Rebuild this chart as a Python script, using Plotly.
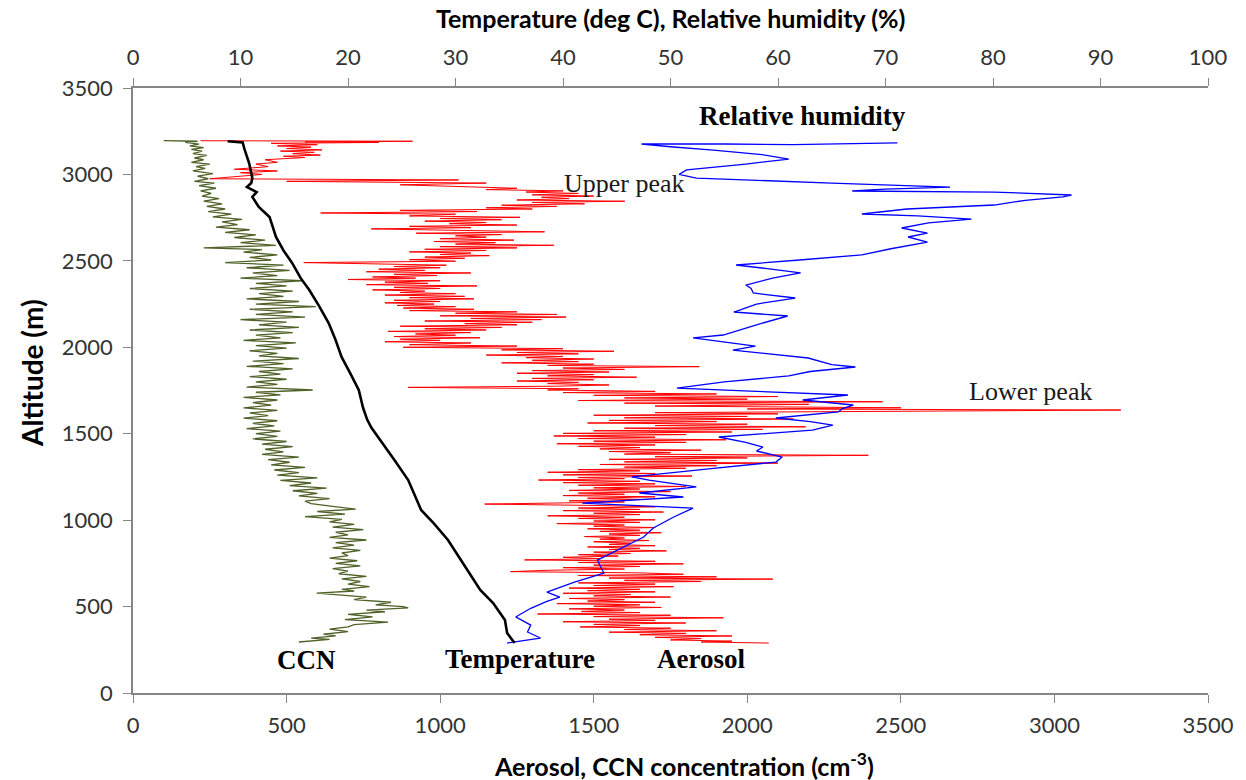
import plotly.graph_objects as go

# ---------------- data ----------------
# Temperature profile: (altitude m, temperature deg C)
temp_points = [
    (3192, 8.8), (3185, 10.2), (3141, 10.4), (3066, 10.8), (2979, 11.1), (2950, 11.0),
    (2927, 10.6), (2910, 11.2), (2898, 11.5), (2870, 11.1), (2812, 11.7), (2754, 12.7),
    (2700, 13.0), (2638, 13.3), (2560, 14.0), (2488, 14.8), (2400, 15.6), (2331, 16.4),
    (2240, 17.3), (2140, 18.2), (2050, 18.8), (1944, 19.4), (1850, 20.2), (1753, 21.0),
    (1650, 21.4), (1579, 21.8), (1533, 22.2), (1464, 23.0), (1350, 24.3), (1232, 25.6),
    (1150, 26.2), (1059, 26.8), (980, 28.0), (885, 29.3), (769, 30.5), (680, 31.4),
    (596, 32.3), (520, 33.5), (422, 34.6), (347, 34.8), (289, 35.5),
]

# Relative humidity profile: (altitude m, RH %)
rh_points = [
    (3182, 71.1), (3178, 65.0), (3172, 61.4), (3176, 55.0), (3176, 47.3), (3160, 50.0),
    (3141, 54.0), (3115, 58.5), (3089, 61.0), (3060, 57.0), (3026, 51.5), (3000, 50.8),
    (2979, 52.4), (2950, 65.0), (2927, 76.0), (2915, 70.0), (2904, 66.9), (2898, 80.1),
    (2890, 84.0), (2881, 87.3), (2870, 86.5), (2850, 83.0), (2823, 80.1), (2800, 72.0),
    (2771, 67.8), (2760, 73.0), (2742, 78.0), (2720, 74.0), (2690, 71.5), (2661, 73.9),
    (2638, 72.1), (2609, 73.9), (2570, 70.5), (2534, 67.8), (2505, 62.0), (2476, 56.1),
    (2455, 59.0), (2430, 62.1), (2400, 59.5), (2360, 57.0), (2340, 57.5), (2314, 57.7),
    (2285, 61.6), (2250, 58.0), (2204, 55.9), (2181, 60.9), (2130, 58.0), (2071, 54.9),
    (2054, 52.1), (2030, 55.0), (2007, 57.9), (1984, 55.8), (1938, 62.8), (1900, 65.0),
    (1886, 67.2), (1860, 63.0), (1834, 61.0), (1800, 55.0), (1764, 50.6), (1745, 58.0),
    (1724, 66.5), (1695, 62.3), (1666, 67.0), (1645, 66.0), (1626, 65.6), (1591, 59.8),
    (1570, 63.0), (1550, 65.1), (1521, 63.2), (1481, 54.5), (1450, 57.0), (1423, 58.6),
    (1400, 58.0), (1365, 60.4), (1336, 59.8), (1300, 54.0), (1273, 49.9), (1250, 46.4),
    (1232, 48.0), (1192, 52.4), (1157, 47.1), (1134, 51.2), (1099, 41.8), (1070, 52.1),
    (1018, 50.3), (955, 48.4), (902, 47.5), (840, 45.5), (769, 43.2), (730, 43.5),
    (694, 43.8), (640, 41.0), (584, 38.5), (555, 39.7), (530, 38.5), (490, 37.0),
    (440, 35.6), (393, 37.0), (353, 36.7), (318, 37.9), (289, 34.8),
]

# CCN concentration profile: (altitude m, cm^-3)
ccn_points = [
    (3195, 100), (3192, 210), (3185, 170), (3175, 215), (3165, 185), (3155, 230),
    (3145, 190), (3135, 225), (3120, 195), (3110, 240), (3095, 200), (3085, 230),
    (3070, 190), (3060, 250), (3045, 205), (3035, 235), (3020, 195), (3005, 260),
    (2990, 210), (2975, 245), (2960, 200), (2950, 265), (2935, 215), (2920, 270),
    (2905, 220), (2890, 255), (2875, 225), (2860, 280), (2845, 230), (2830, 290),
    (2815, 240), (2800, 300), (2785, 245), (2770, 320), (2755, 260), (2740, 355),
    (2725, 290), (2710, 340), (2695, 270), (2680, 380), (2665, 300), (2650, 400),
    (2635, 330), (2620, 430), (2605, 350), (2590, 465), (2575, 230), (2565, 420),
    (2550, 360), (2535, 470), (2520, 380), (2505, 450), (2490, 300), (2475, 490),
    (2460, 370), (2445, 510), (2430, 390), (2415, 470), (2400, 350), (2385, 550),
    (2370, 400), (2355, 500), (2340, 380), (2325, 520), (2310, 410), (2295, 490),
    (2280, 370), (2265, 540), (2250, 400), (2235, 595), (2220, 380), (2205, 520),
    (2190, 400), (2175, 560), (2160, 350), (2145, 500), (2130, 410), (2115, 540),
    (2100, 380), (2085, 520), (2070, 400), (2055, 480), (2040, 360), (2025, 530),
    (2010, 400), (1995, 500), (1980, 380), (1965, 470), (1950, 410), (1935, 540),
    (1920, 390), (1905, 490), (1890, 370), (1875, 520), (1860, 410), (1845, 480),
    (1830, 380), (1815, 500), (1800, 400), (1785, 470), (1770, 370), (1753, 585),
    (1740, 400), (1725, 480), (1710, 360), (1695, 470), (1680, 390), (1665, 450),
    (1650, 360), (1635, 470), (1620, 380), (1605, 440), (1590, 360), (1575, 470),
    (1560, 390), (1545, 460), (1530, 370), (1515, 480), (1500, 400), (1485, 470),
    (1470, 390), (1455, 500), (1440, 420), (1425, 520), (1410, 430), (1395, 490),
    (1380, 420), (1365, 540), (1350, 440), (1335, 510), (1320, 450), (1305, 560),
    (1290, 460), (1275, 540), (1260, 470), (1245, 600), (1230, 480), (1215, 580),
    (1200, 510), (1185, 630), (1170, 520), (1155, 600), (1140, 540), (1125, 640),
    (1110, 560), (1095, 580), (1080, 650), (1064, 725), (1050, 600), (1035, 690),
    (1020, 560), (1005, 680), (990, 640), (975, 720), (960, 650), (945, 750),
    (930, 660), (915, 700), (900, 640), (885, 760), (870, 660), (855, 720),
    (840, 650), (825, 740), (810, 680), (795, 700), (780, 640), (765, 730),
    (750, 660), (735, 740), (720, 650), (705, 700), (690, 670), (675, 760),
    (660, 680), (645, 740), (630, 700), (615, 770), (600, 680), (590, 720),
    (578, 598), (565, 700), (555, 760), (540, 720), (525, 840), (510, 790),
    (500, 880), (492, 896), (480, 760), (470, 820), (455, 700), (440, 780),
    (425, 690), (410, 830), (395, 720), (382, 700), (370, 640), (355, 700),
    (340, 620), (330, 660), (318, 580), (310, 640), (300, 560), (295, 540),
]

# Aerosol concentration profile: (altitude m, cm^-3)
aerosol_points = [
    (3195, 220), (3192, 910), (3188, 560), (3185, 800), (3180, 450), (3172, 600),
    (3165, 470), (3158, 580), (3150, 500), (3142, 615), (3135, 480), (3128, 590),
    (3120, 520), (3112, 610), (3105, 490), (3098, 560), (3085, 430), (3070, 470),
    (3060, 400), (3045, 440), (3030, 330), (3020, 470), (3010, 350), (3000, 420),
    (2975, 250), (2968, 1060), (2960, 500), (2950, 1150), (2940, 870), (2930, 1100),
    (2920, 1250), (2912, 1150), (2905, 1400), (2898, 1280), (2890, 1450), (2882, 1300),
    (2875, 1500), (2868, 1330), (2860, 1420), (2852, 1250), (2845, 1601), (2838, 1300),
    (2830, 1470), (2822, 1200), (2815, 1380), (2807, 1150), (2800, 1300), (2792, 870),
    (2785, 1120), (2777, 611), (2770, 1050), (2760, 900), (2752, 1260), (2745, 1000),
    (2738, 1200), (2730, 950), (2722, 1150), (2715, 1030), (2707, 1250), (2700, 900),
    (2692, 1100), (2685, 776), (2677, 1000), (2668, 1340), (2660, 922), (2652, 1200),
    (2645, 1050), (2637, 1150), (2628, 1000), (2620, 1240), (2612, 980), (2605, 1180),
    (2597, 1050), (2590, 1370), (2582, 1000), (2575, 1250), (2567, 950), (2560, 1150),
    (2552, 900), (2545, 1100), (2537, 1000), (2530, 1160), (2522, 950), (2515, 1080),
    (2507, 900), (2498, 1050), (2490, 556), (2482, 800), (2475, 1020), (2467, 850),
    (2460, 1000), (2452, 800), (2445, 950), (2437, 760), (2430, 1100), (2422, 850),
    (2415, 990), (2407, 780), (2400, 920), (2392, 700), (2385, 1000), (2377, 820),
    (2370, 960), (2362, 760), (2355, 1120), (2347, 850), (2340, 1000), (2332, 780),
    (2325, 950), (2317, 870), (2310, 1050), (2302, 820), (2295, 1080), (2287, 900),
    (2280, 1110), (2272, 850), (2265, 1000), (2257, 820), (2250, 980), (2242, 860),
    (2235, 1050), (2227, 880), (2220, 1110), (2212, 900), (2205, 1250), (2197, 1050),
    (2190, 1380), (2182, 1000), (2175, 1410), (2167, 1100), (2160, 1330), (2152, 950),
    (2145, 1300), (2137, 1080), (2130, 1250), (2122, 870), (2115, 1200), (2107, 950),
    (2100, 1150), (2092, 830), (2085, 1100), (2077, 920), (2070, 1050), (2062, 850),
    (2055, 1130), (2047, 870), (2040, 1000), (2032, 820), (2025, 1100), (2015, 900),
    (2007, 1250), (2000, 880), (1992, 1400), (1985, 1200), (1977, 1566), (1970, 1250),
    (1962, 1450), (1955, 1150), (1947, 1400), (1940, 1280), (1932, 1500), (1925, 1300),
    (1917, 1450), (1910, 1200), (1902, 1500), (1895, 1350), (1888, 1844), (1880, 1400),
    (1872, 1600), (1865, 1300), (1857, 1550), (1850, 1250), (1842, 1500), (1835, 1350),
    (1827, 1640), (1820, 1300), (1812, 1500), (1805, 1250), (1797, 1450), (1790, 1350),
    (1782, 1550), (1775, 1380), (1768, 896), (1760, 1450), (1753, 1350), (1745, 1700),
    (1738, 1400), (1730, 1900), (1722, 1500), (1715, 2100), (1707, 1600), (1700, 2000),
    (1692, 1450), (1685, 2440), (1677, 1600), (1670, 2200), (1660, 1700), (1650, 2500),
    (1643, 2000), (1637, 3216), (1630, 2300), (1622, 1700), (1615, 2100), (1607, 1500),
    (1600, 2000), (1592, 1600), (1585, 2150), (1577, 1550), (1570, 1900), (1562, 1480),
    (1555, 2000), (1547, 1700), (1540, 2190), (1532, 1600), (1525, 2050), (1517, 1500),
    (1510, 1950), (1502, 1400), (1495, 1800), (1487, 1370), (1480, 1700), (1472, 1450),
    (1465, 1931), (1457, 1500), (1450, 1800), (1442, 1380), (1435, 1700), (1427, 1450),
    (1420, 1650), (1412, 1520), (1405, 1850), (1397, 1550), (1390, 1750), (1382, 1600),
    (1375, 2394), (1367, 1700), (1360, 2000), (1352, 1550), (1345, 1900), (1337, 1600),
    (1330, 2100), (1322, 1520), (1315, 1900), (1307, 1600), (1300, 1800), (1292, 1450),
    (1285, 1650), (1277, 1350), (1270, 1700), (1262, 1400), (1255, 1820), (1247, 1450),
    (1240, 1600), (1232, 1320), (1225, 1650), (1217, 1400), (1210, 1700), (1202, 1450),
    (1195, 1800), (1187, 1500), (1180, 1650), (1172, 1420), (1165, 1750), (1157, 1450),
    (1150, 1600), (1142, 1400), (1135, 1700), (1127, 1480), (1120, 1650), (1112, 1420),
    (1105, 1600), (1097, 1300), (1093, 1145), (1085, 1500), (1077, 1700), (1070, 1450),
    (1062, 1650), (1055, 1400), (1047, 1727), (1040, 1500), (1032, 1650), (1025, 1350),
    (1017, 1600), (1010, 1450), (1002, 1700), (995, 1500), (987, 1650), (980, 1380),
    (972, 1600), (965, 1500), (957, 1700), (950, 1480), (942, 1650), (935, 1520),
    (927, 1720), (920, 1550), (912, 1650), (905, 1470), (897, 1600), (890, 1520),
    (882, 1680), (875, 1500), (867, 1620), (860, 1550), (852, 1700), (845, 1480),
    (837, 1650), (830, 1550), (822, 1737), (815, 1500), (807, 1620), (800, 1450),
    (792, 1580), (785, 1400), (777, 1520), (770, 1275), (762, 1700), (755, 1450),
    (747, 1792), (740, 1500), (732, 1650), (725, 1400), (717, 1600), (710, 1350),
    (702, 1229), (695, 1650), (687, 1792), (680, 1450), (672, 1900), (665, 1550),
    (659, 2083), (652, 1600), (645, 1850), (637, 1450), (630, 1700), (622, 1500),
    (615, 1760), (607, 1420), (600, 1650), (592, 1480), (585, 1700), (577, 1400),
    (570, 1620), (562, 1500), (555, 1750), (547, 1420), (540, 1600), (532, 1480),
    (525, 1700), (517, 1380), (510, 1650), (502, 1500), (495, 1720), (487, 1420),
    (480, 1600), (472, 1460), (465, 1650), (457, 1317), (450, 1750), (442, 1500),
    (435, 1922), (427, 1550), (420, 1700), (412, 1400), (405, 1800), (397, 1500),
    (390, 1650), (382, 1456), (375, 1750), (367, 1600), (360, 1900), (352, 1550),
    (345, 1800), (337, 1650), (330, 1950), (322, 1700), (315, 1850), (307, 1750),
    (300, 1950), (295, 1850), (289, 2070),
]

conc_ticks = [0, 500, 1000, 1500, 2000, 2500, 3000, 3500]
top_ticks = [0, 10, 20, 30, 40, 50, 60, 70, 80, 90, 100]
alt_ticks = [0, 500, 1000, 1500, 2000, 2500, 3000, 3500]

temp_alt, temp_val = zip(*temp_points)
rh_alt, rh_val = zip(*rh_points)
ccn_alt, ccn_val = zip(*ccn_points)
aer_alt, aer_val = zip(*aerosol_points)

# ---------------- figure ----------------
fig = go.Figure()
fig.add_trace(go.Scatter(x=aer_val, y=aer_alt, mode="lines", name="Aerosol",
                         line=dict(color="#FF0000", width=1)))
fig.add_trace(go.Scatter(x=ccn_val, y=ccn_alt, mode="lines", name="CCN",
                         line=dict(color="#4F6228", width=1.3)))
fig.add_trace(go.Scatter(x=rh_val, y=rh_alt, mode="lines", name="Relative humidity",
                         xaxis="x2", line=dict(color="#0000FF", width=1.3)))
fig.add_trace(go.Scatter(x=temp_val, y=temp_alt, mode="lines", name="Temperature",
                         xaxis="x2", line=dict(color="#000000", width=2.6)))

axis_color = "#868686"
tick_font = dict(family="Lato, Carlito, Open Sans, sans-serif", size=22, color="#333333")
common = dict(showline=True, linecolor=axis_color, linewidth=1.5, ticks="outside",
              ticklen=8, tickcolor=axis_color, tickwidth=1.3, showgrid=False,
              zeroline=False, tickfont=tick_font)

fig.update_layout(
    width=1246, height=780, autosize=False,
    margin=dict(l=133, r=31, t=88, b=87),
    paper_bgcolor="white", plot_bgcolor="white",
    showlegend=False,
    xaxis=dict(range=[0, 3500], tickvals=conc_ticks, ticklabelstandoff=4, **common),
    xaxis2=dict(range=[0, 100], tickvals=top_ticks, overlaying="x", side="top",
                anchor="y", ticklabelstandoff=4, **common),
    yaxis=dict(range=[0, 3500], tickvals=alt_ticks, ticklabelstandoff=6, **common),
)

title_family = "Lato, Carlito, Open Sans, sans-serif"
serif = "Liberation Serif, Times New Roman, serif"
annos = [
    dict(text="<b>Temperature (deg C), Relative humidity (%)</b>", x=0.5, y=1.116,
         font=dict(family=title_family, size=25, color="#000000")),
    dict(text="<b>Aerosol, CCN concentration (cm<sup>-3</sup>)</b>", x=0.513, y=-0.118,
         font=dict(family=title_family, size=25, color="#000000")),
    dict(text="<b>Altitude (m)</b>", x=-0.094, y=0.529, textangle=-90,
         font=dict(family=title_family, size=28, color="#000000")),
    dict(text="<b>Relative humidity</b>", x=(807 - 133) / 1082, y=(693 - 116) / 605,
         font=dict(family=serif, size=27, color="#000000")),
    dict(text="Upper peak", x=(628 - 133) / 1082, y=(693 - 183) / 605,
         font=dict(family=serif, size=26, color="#1a1a1a")),
    dict(text="Lower peak", x=(1036 - 133) / 1082, y=(693 - 391) / 605,
         font=dict(family=serif, size=26, color="#1a1a1a")),
    dict(text="<b>CCN</b>", x=(308 - 133) / 1082, y=(693 - 660) / 605,
         font=dict(family=serif, size=27, color="#000000")),
    dict(text="<b>Temperature</b>", x=(523 - 133) / 1082, y=(693 - 659) / 605,
         font=dict(family=serif, size=27, color="#000000")),
    dict(text="<b>Aerosol</b>", x=(705 - 133) / 1082, y=(693 - 659) / 605,
         font=dict(family=serif, size=27, color="#000000")),
]
for a in annos:
    fig.add_annotation(xref="paper", yref="paper", showarrow=False,
                       xanchor="center", yanchor="middle", **a)

fig.write_html("out.html")
